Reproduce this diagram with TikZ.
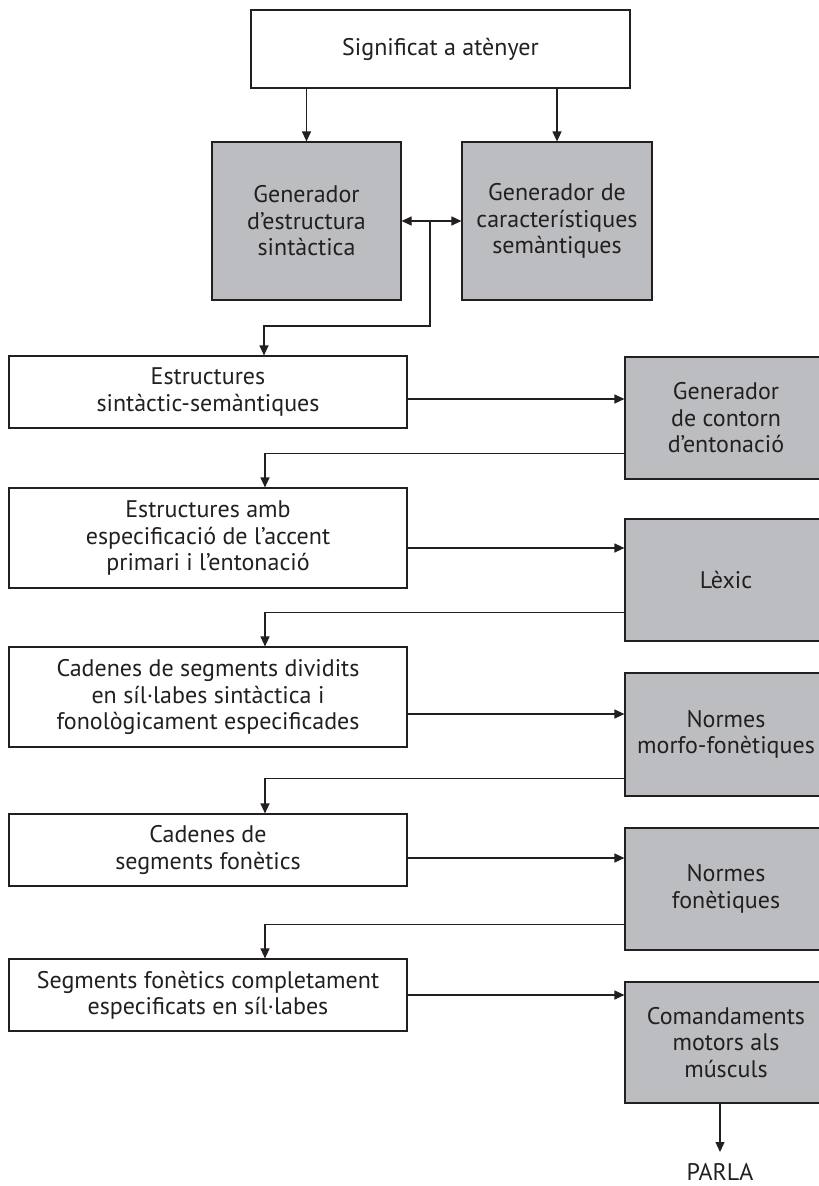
\documentclass[tikz,border=0pt]{standalone}
\usepackage{fontspec}
\setmainfont{PT Sans}
\usetikzlibrary{arrows.meta}
\definecolor{boxgrey}{RGB}{188,189,192}
\definecolor{ink}{RGB}{35,31,32}
\begin{document}
\begin{tikzpicture}[
  x=1pt, y=-1pt,
  stage/.style={rectangle, draw=ink, line width=1.2pt, fill=white, align=center, inner sep=0pt, font=\fontsize{24}{26.5}\selectfont, text=ink},
  engine/.style={stage, fill=boxgrey},
  line/.style={-{Triangle[length=10pt,width=9pt]}, line width=1.2pt, draw=ink}
]
\useasboundingbox (0,0) rectangle (819,1186);

% Top
\node[stage, minimum width=379, minimum height=78] (goal) at (440.5,49) {Significat a atènyer};

% Generators
\node[engine, minimum width=189, minimum height=158] (gsin) at (306.5,221) {Generador\\d’estructura\\sintàctica};
\node[engine, minimum width=190, minimum height=158] (gsem) at (557,221) {Generador de\\característiques\\semàntiques};

% Left column
\node[stage, minimum width=398, minimum height=72] (est1) at (208,392) {Estructures\\sintàctic-semàntiques};
\node[stage, minimum width=398, minimum height=100] (est2) at (208,538) {Estructures amb\\especificació de l’accent\\primari i l’entonació};
\node[stage, minimum width=398, minimum height=100] (cad1) at (208,697) {Cadenes de segments dividits\\en síl·labes sintàctica i\\fonològicament especificades};
\node[stage, minimum width=398, minimum height=72] (cad2) at (208,850) {Cadenes de\\segments fonètics};
\node[stage, minimum width=398, minimum height=72] (seg) at (208,995) {Segments fonètics completament\\especificats en síl·labes};

% Right column (runs off the page edge)
\node[engine, minimum width=202, minimum height=122] (gcon) at (726,418) {Generador\\de contorn\\d’entonació};
\node[engine, minimum width=202, minimum height=122] (lex) at (726,580) {Lèxic};
\node[engine, minimum width=202, minimum height=123] (morf) at (726,734.5) {Normes\\morfo-fonètiques};
\node[engine, minimum width=202, minimum height=122] (fon) at (726,889) {Normes\\fonètiques};
\node[engine, minimum width=202, minimum height=121] (com) at (726,1042.5) {Comandaments\\motors als\\músculs};
\node[font=\fontsize{24}{26.5}\selectfont, text=ink, anchor=north, inner sep=0pt, outer ysep=11pt] (parla) at (720,1152) {PARLA};

% Arrows
\draw[line] (gsin.north |- goal.south) -- (gsin.north);
\draw[line] (gsem.north |- goal.south) -- (gsem.north);
\coordinate (join) at (430,221);
\draw[line, {Triangle[length=10pt,width=9pt]}-{Triangle[length=10pt,width=9pt]}] (gsin.east) -- (gsem.west);
\draw[line] (join) |- (264,326) -- ([xshift=56pt]est1.north);

\draw[line] ([yshift=-7pt]est1.east) -- ([yshift=-7pt]est1.east -| gcon.west);
\draw[line] ([yshift=26pt]gcon.south west) -| ([xshift=57pt]est2.north);
\draw[line] ([yshift=-10pt]est2.east) -- ([yshift=-10pt]est2.east -| lex.west);
\draw[line] ([yshift=29pt]lex.south west) -| ([xshift=57pt]cad1.north);
\draw[line] ([yshift=-17pt]cad1.east) -- ([yshift=-17pt]cad1.east -| morf.west);
\draw[line] ([yshift=18pt]morf.south west) -| ([xshift=57pt]cad2.north);
\draw[line] ([yshift=-8pt]cad2.east) -- ([yshift=-8pt]cad2.east -| fon.west);
\draw[line] ([yshift=26pt]fon.south west) -| ([xshift=57pt]seg.north);
\draw[line] (seg.east) -- (seg.east -| com.west);
\draw[line] (com.south -| parla.north) -- (parla.north);
\end{tikzpicture}
\end{document}
